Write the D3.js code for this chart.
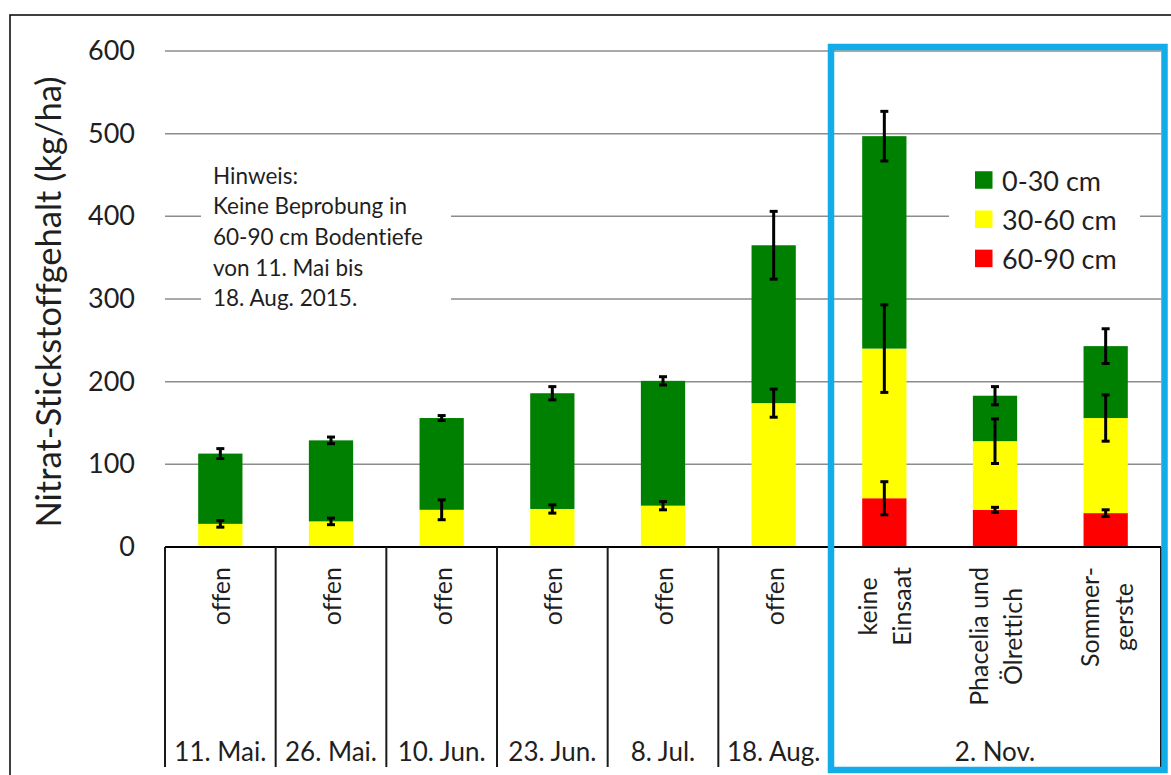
<!DOCTYPE html>
<html><head><meta charset="utf-8">
<script src="https://cdn.jsdelivr.net/npm/d3@7"></script>
<style>
html,body{margin:0;padding:0;background:#fff;}
svg{display:block;font-family:Lato,"Open Sans",sans-serif;font-variant-ligatures:none;}
</style></head><body>
<svg id="chart" width="1171" height="775"></svg>
<script>
// Inner category labels (one per bar); "\n" splits a label into lines
const categories = ["offen", "offen", "offen", "offen", "offen", "offen",
  "keine\nEinsaat", "Phacelia und\nÖlrettich", "Sommer-\ngerste"];
// Sampling dates (outer axis level) and how many bars each date spans
const dates = ["11. Mai.", "26. Mai.", "10. Jun.", "23. Jun.", "8. Jul.", "18. Aug.", "2. Nov."];
const dateSpans = [1, 1, 1, 1, 1, 1, 3];

// Nitrate-N per soil layer (kg/ha), stacked bottom to top: 60-90, 30-60, 0-30 cm
const layerNames = ["60-90 cm", "30-60 cm", "0-30 cm"];
const red60_90   = [0, 0, 0, 0, 0, 0, 59, 45, 41];
const yellow30_60 = [28, 31, 45, 46, 50, 174, 181, 83, 115];
const green0_30  = [85, 98, 111, 140, 151, 191, 257, 55, 87];
// Standard errors shown as error bars at the top of each segment
const errRed    = [null, null, null, null, null, null, 20, 3, 4];
const errYellow = [4, 4, 12, 5, 5, 17, 53, 27, 28];
const errGreen  = [6, 4, 3, 8, 5, 41, 30, 11, 21];

const yTicks = [0, 100, 200, 300, 400, 500, 600];
const yTitle = "Nitrat-Stickstoffgehalt (kg/ha)";
const noteLines = ["Hinweis:", "Keine Beprobung in", "60-90 cm Bodentiefe", "von 11. Mai bis", "18. Aug. 2015."];
const layerColors = ["#ff0000", "#ffff00", "#008000"];

const svg = d3.select("#chart");
const textColor = "#1f1f1f";

// outer frame
svg.append("rect").attr("x", 10).attr("y", 15).attr("width", 1300).attr("height", 900)
  .attr("fill", "none").attr("stroke", "#000").attr("stroke-width", 1.5);

const x = d3.scaleBand().domain(d3.range(categories.length))
  .range([165, 1161]).paddingInner(0.6).paddingOuter(0.3);
const y = d3.scaleLinear().domain([0, 600]).range([547, 51]);
const edge = i => x(i) - x.step() * x.paddingInner() / 2;

// gridlines
svg.append("g").selectAll("line").data(yTicks.filter(d => d > 0)).join("line")
  .attr("x1", 165).attr("x2", 1161).attr("y1", d => y(d)).attr("y2", d => y(d))
  .attr("stroke", "#8c8c8c").attr("stroke-width", 1.5);

// white backgrounds behind the note and legend
svg.append("rect").attr("x", 201).attr("y", 152).attr("width", 250).attr("height", 162).attr("fill", "#fff");
svg.append("rect").attr("x", 949).attr("y", 152).attr("width", 191).attr("height", 130).attr("fill", "#fff");

// y axis labels
const yAxis = d3.axisLeft(y).tickValues(yTicks).tickSize(0).tickPadding(30);
const ga = svg.append("g").attr("transform", "translate(165,0)").call(yAxis);
ga.select(".domain").remove();
ga.selectAll("text").attr("font-size", 27).attr("fill", textColor).attr("font-family", "Lato");

svg.append("text").attr("transform", "translate(47,302) rotate(-90)")
  .attr("text-anchor", "middle").attr("dominant-baseline", "central")
  .attr("font-size", 34.5).attr("fill", textColor).text(yTitle);

// stacked bars
const rows = categories.map((c, i) => ({i, r: red60_90[i], yl: yellow30_60[i], g: green0_30[i]}));
const stack = d3.stack().keys(["r", "yl", "g"]);
const series = stack(rows);
const gBars = svg.append("g");
series.forEach((s, k) => {
  gBars.append("g").attr("fill", layerColors[k]).selectAll("rect").data(s.filter(d => d[1] > d[0])).join("rect")
    .attr("x", d => x(d.data.i)).attr("width", x.bandwidth())
    .attr("y", d => y(d[1])).attr("height", d => y(d[0]) - y(d[1]));
});

// error bars
const errs = [errRed, errYellow, errGreen];
const gErr = svg.append("g").attr("stroke", "#000").attr("stroke-width", 3);
series.forEach((s, k) => {
  s.forEach((d, i) => {
    const e = errs[k][i];
    if (e == null || d[1] <= d[0]) return;
    const cx = x(i) + x.bandwidth() / 2;
    const y1 = y(d[1] + e), y2 = y(d[1] - e);
    gErr.append("line").attr("x1", cx).attr("x2", cx).attr("y1", y1).attr("y2", y2);
    gErr.append("line").attr("x1", cx - 4).attr("x2", cx + 4).attr("y1", y1).attr("y2", y1);
    gErr.append("line").attr("x1", cx - 4).attr("x2", cx + 4).attr("y1", y2).attr("y2", y2);
  });
});

// category axis: baseline and group separators
svg.append("line").attr("x1", 165).attr("x2", 1161).attr("y1", y(0)).attr("y2", y(0))
  .attr("stroke", "#000").attr("stroke-width", 2);
let starts = [0];
dateSpans.forEach(s => starts.push(starts[starts.length - 1] + s));
svg.append("g").selectAll("line").data(starts).join("line")
  .attr("x1", i => i < categories.length ? edge(i) : 1161)
  .attr("x2", i => i < categories.length ? edge(i) : 1161)
  .attr("y1", y(0)).attr("y2", 767).attr("stroke", "#1a1a1a").attr("stroke-width", 2);

// rotated inner labels, block aligned to top, lines centred on each other
const catTop = 567, lineGap = 34;
categories.forEach((c, i) => {
  const lines = c.split("\n");
  const cx = x(i) + x.bandwidth() / 2;
  const g = svg.append("g");
  const ts = lines.map((t, j) => g.append("text").attr("font-size", 25).attr("fill", textColor)
    .attr("text-anchor", "middle").attr("dominant-baseline", "central").text(t));
  const L = d3.max(ts, t => t.node().getComputedTextLength());
  const cy = catTop + L / 2;
  ts.forEach((t, j) => {
    const lx = cx + (j - (lines.length - 1) / 2) * lineGap;
    t.attr("transform", `translate(${lx},${cy}) rotate(-90)`);
  });
});

// date labels
dates.forEach((d, k) => {
  const a = edge(starts[k]);
  const b = starts[k + 1] < categories.length ? edge(starts[k + 1]) : 1161;
  svg.append("text").attr("x", (a + b) / 2).attr("y", 761).attr("text-anchor", "middle")
    .attr("font-size", 26).attr("fill", textColor).text(d);
});

// note
svg.append("g").selectAll("text").data(noteLines).join("text")
  .attr("x", 213).attr("y", (d, i) => 183.5 + i * 30.7)
  .attr("font-size", 22.5).attr("fill", textColor).text(d => d);

// legend (top entry is the top layer)
const legendOrder = [2, 1, 0];
const lg = svg.append("g");
legendOrder.forEach((k, j) => {
  const cy = 180 + j * 39.2;
  lg.append("rect").attr("x", 975).attr("y", cy - 8.75).attr("width", 17.5).attr("height", 17.5).attr("fill", layerColors[k]);
  lg.append("text").attr("x", 1002).attr("y", cy).attr("dominant-baseline", "central")
    .attr("font-size", 27).attr("fill", textColor).text(layerNames[k]);
});

// highlight box around the November group
svg.append("rect").attr("x", 831).attr("y", 47).attr("width", 333.5).attr("height", 723)
  .attr("fill", "none").attr("stroke", "#12ade8").attr("stroke-width", 6.5);
</script>
</body></html>
